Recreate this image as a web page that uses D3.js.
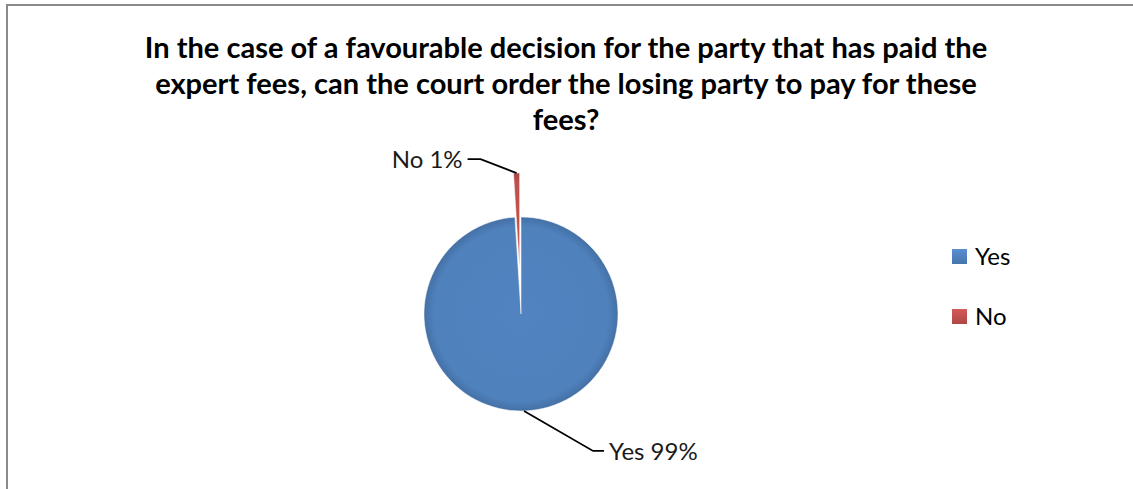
<!DOCTYPE html>
<html>
<head>
<meta charset="utf-8">
<script src="https://cdn.jsdelivr.net/npm/d3@7"></script>
<style>
  html, body { margin: 0; padding: 0; background: #ffffff; }
  svg { display: block; }
</style>
</head>
<body>
<svg id="chart" width="1133" height="489"></svg>
<script>
// Survey answers: share of respondents
const categories = ["Yes", "No"];
const values = [99, 1];
const sliceColors = ["#4F81BD", "#C0504D"];
const explodeBy = [0, 44];
const titleLines = [
  "In the case of a favourable decision for the party that has paid the",
  "expert fees, can the court order the losing party to pay for these",
  "fees?"
];

const W = 1133, H = 489;
const svg = d3.select("#chart");
const font = "Lato, 'Open Sans', sans-serif";

// Frame around the chart area
svg.append("rect")
  .attr("x", 7).attr("y", 5)
  .attr("width", W + 10).attr("height", H + 10)
  .attr("fill", "#ffffff")
  .attr("stroke", "#8a8a8a")
  .attr("stroke-width", 2);

// Title, sized so the first line spans the plot width
const titleWidth = 843;
const title = svg.append("g").selectAll("text")
  .data(titleLines)
  .join("text")
  .attr("x", 566)
  .attr("y", (d, i) => 58 + i * 36)
  .attr("text-anchor", "middle")
  .attr("font-family", font)
  .attr("font-weight", "bold")
  .attr("font-size", 25)
  .attr("fill", "#000")
  .text(d => d);
const measured = title.nodes()[0].getComputedTextLength();
const titleSize = 25 * titleWidth / measured;
title.attr("font-size", titleSize);

// Pie
const cx = 521, cy = 314, R = 97;
const defs = svg.append("defs");
sliceColors.forEach((c, i) => {
  const g = defs.append("radialGradient")
    .attr("id", "shade" + i)
    .attr("gradientUnits", "userSpaceOnUse")
    .attr("cx", 0).attr("cy", 0).attr("r", R);
  const base = d3.color(c);
  g.append("stop").attr("offset", "0%").attr("stop-color", base.brighter(0.05));
  g.append("stop").attr("offset", "90%").attr("stop-color", base);
  g.append("stop").attr("offset", "100%").attr("stop-color", base.darker(0.4));

  const k = defs.append("linearGradient")
    .attr("id", "key" + i)
    .attr("x1", 0).attr("y1", 0).attr("x2", 0).attr("y2", 1);
  k.append("stop").attr("offset", "0%").attr("stop-color", base.brighter(0.3));
  k.append("stop").attr("offset", "100%").attr("stop-color", base.darker(0.3));
});

const pie = d3.pie().sort(null).value(d => d).startAngle(0).endAngle(2 * Math.PI);
const arcs = pie(values);
const arc = d3.arc().innerRadius(0).outerRadius(R);

const offsetOf = (a, i) => {
  const mid = (a.startAngle + a.endAngle) / 2;
  return [Math.sin(mid) * explodeBy[i], -Math.cos(mid) * explodeBy[i]];
};

const pieG = svg.append("g").attr("transform", `translate(${cx},${cy})`);
pieG.selectAll("path")
  .data(arcs)
  .join("path")
  .attr("transform", (d, i) => { const o = offsetOf(d, i); return `translate(${o[0]},${o[1]})`; })
  .attr("d", arc)
  .attr("fill", (d, i) => `url(#shade${i})`)
  .attr("stroke", "#ffffff")
  .attr("stroke-width", 0.5);

// Data labels with leader lines
const labelDefs = [
  { elbow: [69, 40], run: 11, anchor: "start" },
  { elbow: [-36, -14], run: -13, anchor: "end" }
];
const labelG = svg.append("g").attr("transform", `translate(${cx},${cy})`);
arcs.forEach((a, i) => {
  const mid = (a.startAngle + a.endAngle) / 2;
  const o = offsetOf(a, i);
  const p0 = [o[0] + Math.sin(mid) * R, o[1] - Math.cos(mid) * R];
  const p1 = [p0[0] + labelDefs[i].elbow[0], p0[1] + labelDefs[i].elbow[1]];
  const p2 = [p1[0] + labelDefs[i].run, p1[1]];
  labelG.append("path")
    .attr("d", d3.line()([p0, p1, p2]))
    .attr("fill", "none")
    .attr("stroke", "#000")
    .attr("stroke-width", 1.8);
  const dir = labelDefs[i].run > 0 ? 1 : -1;
  labelG.append("text")
    .attr("x", p2[0] + dir * 5)
    .attr("y", p2[1] + 1)
    .attr("dy", "0.32em")
    .attr("text-anchor", labelDefs[i].anchor)
    .attr("font-family", font)
    .attr("font-size", 24)
    .attr("fill", "#1a1a1a")
    .text(`${categories[i]} ${values[i]}%`);
});

// Legend
const legend = svg.append("g").attr("transform", "translate(952,249)");
const item = legend.selectAll("g")
  .data(categories)
  .join("g")
  .attr("transform", (d, i) => `translate(0,${i * 60})`);
item.append("rect")
  .attr("width", 15).attr("height", 15)
  .attr("fill", (d, i) => `url(#key${i})`);
item.append("text")
  .attr("x", 23).attr("y", 8)
  .attr("dy", "0.35em")
  .attr("font-family", font)
  .attr("font-size", 24)
  .attr("fill", "#000")
  .text(d => d);
</script>
</body>
</html>
